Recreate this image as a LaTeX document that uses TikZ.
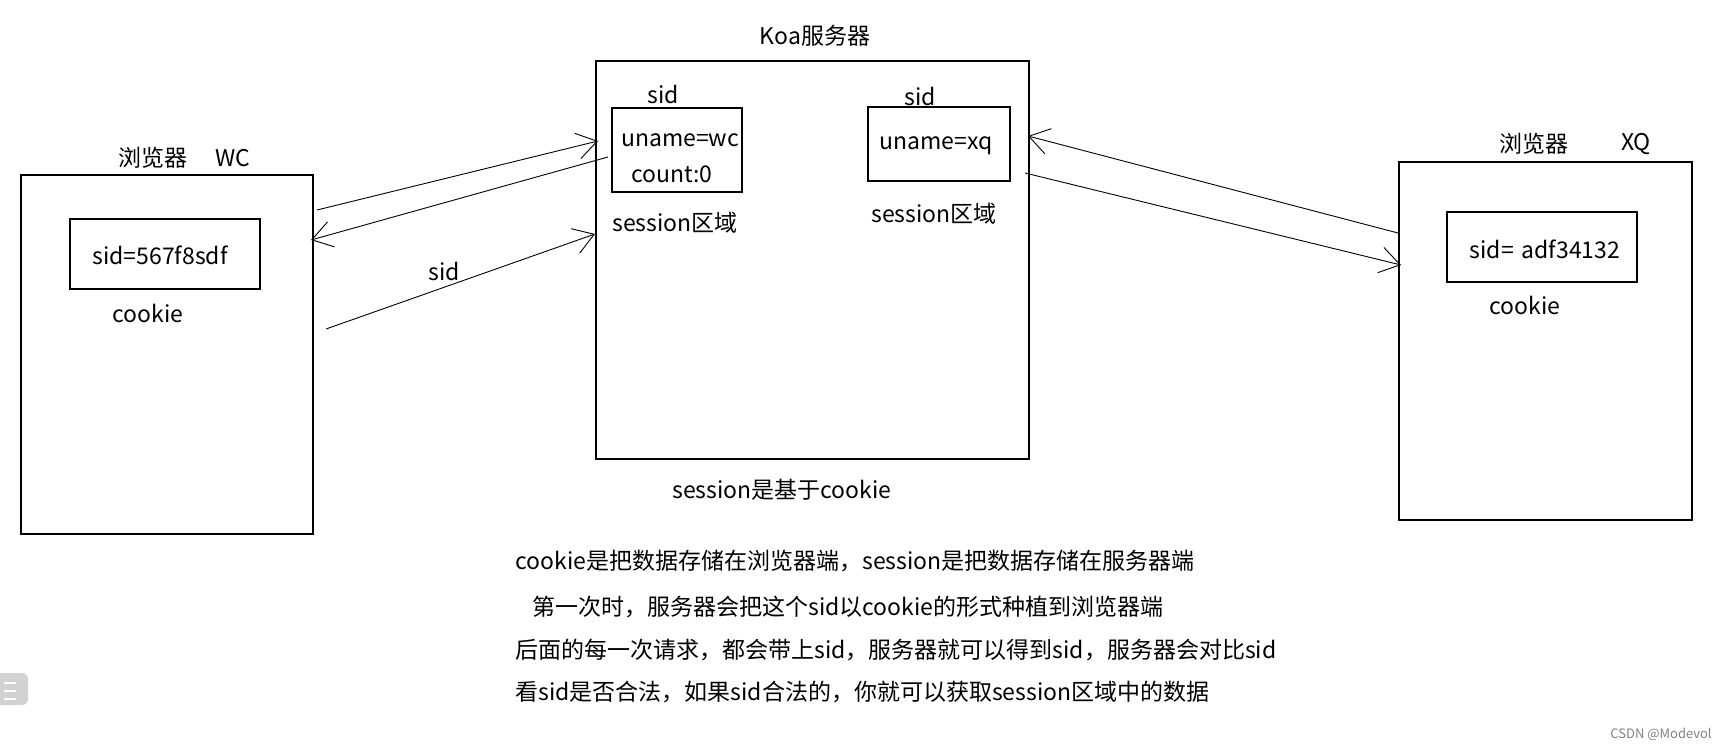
\documentclass[tikz,border=0pt]{standalone}
\usepackage{fontspec}
\setmainfont{Noto Sans CJK SC}
\usetikzlibrary{positioning,arrows.meta}

\tikzset{
  box/.style={draw,line width=0.6pt,inner sep=0pt},
  lbl/.style={inner sep=0pt,font=\fontsize{11.5}{14}\selectfont},
  flow/.style={line width=0.45pt,-{Straight Barb[length=10pt,width=13pt,line width=0.45pt]}}
}

\begin{document}
\begin{tikzpicture}[x=0.5pt,y=-0.5pt]
   \useasboundingbox (0,0) rectangle (1731,749);
   % browser WC
   \node[box,minimum width=146pt,minimum height=179.5pt] (wc) at (167,354.5) {};
   \node[box,minimum width=95pt,minimum height=35pt] (wccookie) at (165,254) {};
   \node[lbl] (wcsid) at (160,255) {sid=567f8sdf};
   \node[lbl] (wctitle) at (184,158) {浏览器\hspace{14pt}WC};
   \node[lbl] (wccookielbl) at (148,313) {cookie};
   % Koa server
   \node[box,minimum width=216.5pt,minimum height=199pt] (koa) at (812.5,260) {};
   \node[lbl] (koatitle) at (815,36) {Koa服务器};
   \node[box,minimum width=65pt,minimum height=42pt] (sess1) at (677,150) {};
   \node[lbl] (sid1) at (663,94) {sid};
   \node[lbl] (uname1) at (680,140) {uname=wc};
   \node[lbl] (count1) at (672,174) {count:0};
   \node[lbl] (area1) at (675,223) {session区域};
   \node[box,minimum width=71pt,minimum height=37pt] (sess2) at (939,144) {};
   \node[lbl] (sid2) at (920,96) {sid};
   \node[lbl] (uname2) at (936,146) {uname=xq};
   \node[lbl] (area2) at (934,214) {session区域};
   \node[lbl] (basis) at (782,490) {session是基于cookie};
   % browser XQ
   \node[box,minimum width=146.5pt,minimum height=179pt] (xq) at (1545.5,341) {};
   \node[box,minimum width=95pt,minimum height=35pt] (xqcookie) at (1542,247) {};
   \node[lbl] (xqsid) at (1545,249) {sid=\,\,adf34132};
   \node[lbl] (xqtitle) at (1534,144) {浏览器};
   \node[lbl] (xqname) at (1636,144) {XQ};
   \node[lbl] (xqcookielbl) at (1525,305) {cookie};
   % arrow ends
   \coordinate (a1s) at (317,210);
   \coordinate (a1e) at (598,141);
   \coordinate (a2s) at (608,157);
   \coordinate (a2e) at (311,240);
   \coordinate (a3s) at (326,329);
   \coordinate (a3e) at (595,234);
   \coordinate (a4s) at (1398,233);
   \coordinate (a4e) at (1028,136);
   \coordinate (a5s) at (1025,173);
   \coordinate (a5e) at (1401,265);
   \path[flow]
        (a1s) edge (a1e)
        (a2s) edge (a2e)
        (a3s) edge (a3e)
        (a4s) edge (a4e)
        (a5s) edge (a5e);
   \node[lbl] (sidlbl) at (444,271) {sid};
   % notes
   \node[lbl,anchor=west] (note1) at (515,561) {cookie是把数据存储在浏览器端，session是把数据存储在服务器端};
   \node[lbl,anchor=west] (note2) at (532,607) {第一次时，服务器会把这个sid以cookie的形式种植到浏览器端};
   \node[lbl,anchor=west] (note3) at (515,650) {后面的每一次请求，都会带上sid，服务器就可以得到sid，服务器会对比sid};
   \node[lbl,anchor=west] (note4) at (515,692) {看sid是否合法，如果sid合法的，你就可以获取session区域中的数据};
   % page extras
   \fill[gray!35,rounded corners=3pt] (-10,673) rectangle (28,705);
   \foreach \yy in {683,691,699}
      \draw[white,line width=1pt] (4,\yy) -- (16,\yy);
   \node[inner sep=0pt,text=gray,font=\fontsize{6.5}{8}\selectfont] (mark) at (1661,734) {CSDN @Modevol};
\end{tikzpicture}
\end{document}
